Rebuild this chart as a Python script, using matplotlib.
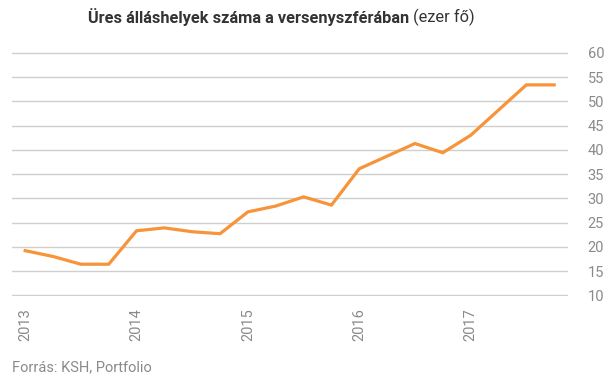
import matplotlib
matplotlib.use('Agg')
import matplotlib.pyplot as plt

# quarterly data, 2013 Q1 .. 2017 Q4 (thousand people)
quarters = list(range(20))
vacancies = [19.2, 18.0, 16.4, 16.4,
             23.3, 23.9, 23.1, 22.7,
             27.2, 28.4, 30.3, 28.6,
             36.1, 38.7, 41.3, 39.4,
             43.0, 48.2, 53.4, 53.4]
year_pos = [0, 4, 8, 12, 16]
year_labels = ['2013', '2014', '2015', '2016', '2017']
y_ticks = [10, 15, 20, 25, 30, 35, 40, 45, 50, 55, 60]

plt.rcParams['font.family'] = ['Roboto', 'DejaVu Sans']

fig = plt.figure(figsize=(6.05, 3.78), dpi=100)
ax = fig.add_axes([0.02, 0.217, 0.919, 0.645])

ax.plot(quarters, vacancies, color='#F7943A', lw=2.3, solid_joinstyle='miter')

ax.set_xlim(-0.47, 19.5)
ax.set_ylim(9.85, 60.15)
ax.set_yticks(y_ticks)
ax.yaxis.tick_right()
ax.set_xticks(year_pos)
ax.set_xticklabels(year_labels, rotation=90, va='top')
ax.tick_params(axis='both', length=0, labelsize=10.5, colors='#8a8a8a')
ax.tick_params(axis='y', pad=14)
ax.tick_params(axis='x', pad=9)
ax.grid(axis='y', color='#cfcfcf', lw=1)
ax.set_axisbelow(True)
for s in ax.spines.values():
    s.set_visible(False)

# title: bold part + regular part
t1 = fig.text(88 / 605, 1 - 17 / 378, 'Üres álláshelyek száma a versenyszférában',
              fontsize=11.8, fontweight='bold', color='#333333', va='center', ha='left')
fig.canvas.draw()
bb = t1.get_window_extent()
fig.text(bb.x1 / fig.bbox.width + 0.007, 1 - 17 / 378, '(ezer fő)',
         fontsize=11.8, color='#333333', va='center', ha='left')

fig.text(12 / 605, 1 - 367 / 378, 'Forrás: KSH, Portfolio',
         fontsize=10.5, color='#8a8a8a', va='center', ha='left')

plt.savefig('out.png', dpi=100)
